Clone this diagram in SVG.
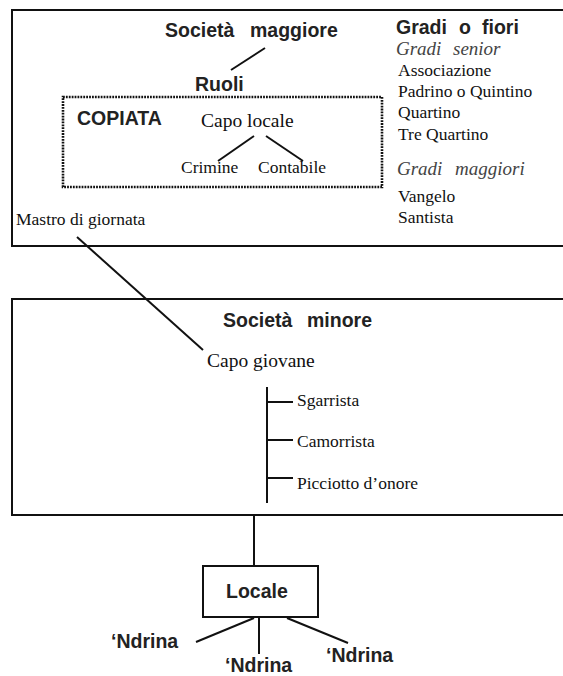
<svg xmlns="http://www.w3.org/2000/svg" width="563" height="676" viewBox="0 0 563 676">
  <style>
    .frame { fill: none; stroke: #111; stroke-width: 2; }
    .dots { fill: none; stroke: #111; stroke-width: 2.6; stroke-dasharray: 1.8 1.1; }
    .link { fill: none; stroke: #111; stroke-width: 2; }
    .hd { font-family: "Liberation Sans", Arial, sans-serif; font-weight: bold; font-size: 19.5px; fill: #222; }
    .rm { font-family: "Liberation Serif", "Times New Roman", serif; font-size: 17.5px; fill: #111; }
    .rl { font-family: "Liberation Serif", "Times New Roman", serif; font-size: 19.5px; fill: #111; }
    .it { font-family: "Liberation Serif", "Times New Roman", serif; font-style: italic; font-size: 19px; fill: #444; }
  </style>
  <rect width="563" height="676" fill="#fff"/>

  <!-- upper tier: senior society -->
  <g id="societa-maggiore">
    <rect class="frame" x="12" y="10" width="570" height="236"/>
    <text class="hd" x="165" y="37">Società <tspan x="250">maggiore</tspan></text>
  </g>
  <g id="ruoli">
    <text class="hd" x="195" y="91">Ruoli</text>
  </g>
  <g id="copiata">
    <rect class="dots" x="63" y="97" width="319" height="90"/>
    <text class="hd" x="77" y="125">COPIATA</text>
  </g>
  <g id="capo-locale">
    <text class="rl" x="201" y="127">Capo locale</text>
  </g>
  <g id="crimine">
    <text class="rm" x="181" y="173">Crimine</text>
  </g>
  <g id="contabile">
    <text class="rm" x="258" y="173">Contabile</text>
  </g>
  <g id="mastro-di-giornata">
    <text class="rm" x="16" y="225">Mastro di giornata</text>
  </g>
  <g id="gradi">
    <text class="hd" x="396" y="34">Gradi <tspan x="459">o</tspan> <tspan x="482">fiori</tspan></text>
    <text class="it" x="396" y="55">Gradi <tspan x="453">senior</tspan></text>
    <text class="rm" x="398" y="76">Associazione</text>
    <text class="rm" x="398" y="97">Padrino o Quintino</text>
    <text class="rm" x="398" y="118">Quartino</text>
    <text class="rm" x="398" y="140">Tre Quartino</text>
    <text class="it" x="397" y="175">Gradi <tspan x="455">maggiori</tspan></text>
    <text class="rm" x="398" y="202">Vangelo</text>
    <text class="rm" x="398" y="223">Santista</text>
  </g>

  <!-- lower tier: minor society -->
  <g id="societa-minore">
    <rect class="frame" x="12" y="299" width="570" height="216"/>
    <text class="hd" x="223" y="327">Società <tspan x="307">minore</tspan></text>
  </g>
  <g id="capo-giovane">
    <text class="rl" x="207" y="367">Capo giovane</text>
  </g>
  <g id="sgarrista">
    <text class="rm" x="297" y="406">Sgarrista</text>
  </g>
  <g id="camorrista">
    <text class="rm" x="297" y="447">Camorrista</text>
  </g>
  <g id="picciotto">
    <text class="rm" x="297" y="489">Picciotto d’onore</text>
  </g>

  <!-- local unit and its families -->
  <g id="locale">
    <rect class="frame" x="203" y="566" width="115" height="51"/>
    <text class="hd" x="226" y="598">Locale</text>
  </g>
  <g id="ndrina-1">
    <text class="hd" x="111" y="648">‘Ndrina</text>
  </g>
  <g id="ndrina-2">
    <text class="hd" x="225" y="672">‘Ndrina</text>
  </g>
  <g id="ndrina-3">
    <text class="hd" x="326" y="662">‘Ndrina</text>
  </g>

  <!-- connectors -->
  <g id="connectors" class="link">
    <line x1="265" y1="48" x2="231" y2="70"/>
    <line x1="254" y1="136" x2="218" y2="161"/>
    <line x1="266" y1="136" x2="303" y2="161"/>
    <line x1="77" y1="237" x2="203" y2="350"/>
    <line x1="267" y1="387" x2="267" y2="503"/>
    <line x1="267" y1="402" x2="293" y2="402"/>
    <line x1="267" y1="440" x2="293" y2="440"/>
    <line x1="267" y1="478" x2="293" y2="478"/>
    <line x1="254" y1="515" x2="254" y2="566"/>
    <line x1="254" y1="618" x2="196" y2="642"/>
    <line x1="259" y1="618" x2="259" y2="654"/>
    <line x1="287" y1="618" x2="348" y2="643"/>
  </g>
</svg>
